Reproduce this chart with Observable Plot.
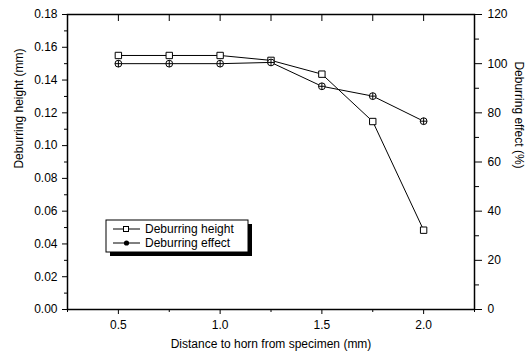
<!DOCTYPE html>
<html><head><meta charset="utf-8">
<script src="https://cdn.jsdelivr.net/npm/d3@7"></script>
<script src="https://cdn.jsdelivr.net/npm/@observablehq/plot@0.6"></script>
<style>body{margin:0;background:#fff;font-family:"Liberation Sans",Arial,sans-serif}</style>
</head><body><div id="chart"></div>
<script>
const distance = [0.5, 0.75, 1.0, 1.25, 1.5, 1.75, 2.0];
const debHeight = [0.155, 0.155, 0.155, 0.152, 0.1436, 0.1147, 0.0484];
const debEffect = [100, 100, 100, 100.5, 90.8, 86.8, 76.6];
const leftTicks = [0, 0.02, 0.04, 0.06, 0.08, 0.10, 0.12, 0.14, 0.16, 0.18];
const leftMinor = [0.01, 0.03, 0.05, 0.07, 0.09, 0.11, 0.13, 0.15, 0.17];
const rightTicks = [0, 20, 40, 60, 80, 100, 120];
const rightMinor = [10, 30, 50, 70, 90, 110];
const xTicks = [0.5, 1.0, 1.5, 2.0];
const xMinor = [0.25, 0.75, 1.25, 1.75, 2.25];
const xTop = [0.5, 0.75, 1.0, 1.25, 1.5, 1.75, 2.0];
const seriesNames = ["Deburring height", "Deburring effect"];

const Y_MAX = 0.18, R_MAX = 120;
const toLeft = v => v / R_MAX * Y_MAX;

const hData = distance.map((d, i) => ({x: d, y: debHeight[i]}));
const eData = distance.map((d, i) => ({x: d, y: toLeft(debEffect[i])}));

const circlePlus = {
  draw(ctx, size) {
    const r = Math.sqrt(size / Math.PI);
    ctx.moveTo(r, 0);
    ctx.arc(0, 0, r, 0, 2 * Math.PI);
    ctx.moveTo(-r, 0); ctx.lineTo(r, 0);
    ctx.moveTo(0, -r); ctx.lineTo(0, r);
  }
};

const chart = Plot.plot({
  width: 530, height: 358,
  marginLeft: 67, marginRight: 56, marginTop: 14, marginBottom: 49,
  style: {fontFamily: "Liberation Sans, Arial, sans-serif", fontSize: "12px", background: "white", color: "black"},
  x: {domain: [0.25, 2.25]},
  y: {domain: [0, Y_MAX]},
  marks: [
    Plot.axisY(leftTicks, {anchor: "left", tickSize: 5, tickPadding: 5, tickFormat: d3.format(".2f"), label: null}),
    Plot.axisY(leftMinor, {anchor: "left", tickSize: 3, tickFormat: () => "", label: null}),
    Plot.axisY(rightTicks.map(toLeft), {anchor: "right", tickSize: 7, tickPadding: 6, tickFormat: d => String(Math.round(d / Y_MAX * R_MAX)), label: null}),
    Plot.axisY(rightMinor.map(toLeft), {anchor: "right", tickSize: 4, tickFormat: () => "", label: null}),
    Plot.axisX(xTicks, {anchor: "bottom", tickSize: 5, tickPadding: 6, tickFormat: d3.format(".1f"), label: null}),
    Plot.axisX(xMinor, {anchor: "bottom", tickSize: 3, tickFormat: () => "", label: null}),
    Plot.axisX(xTop, {anchor: "top", tickSize: -6, tickFormat: () => "", label: null}),
    Plot.frame({strokeWidth: 1.5}),
    Plot.line(hData, {x: "x", y: "y", stroke: "black", strokeWidth: 1}),
    Plot.line(eData, {x: "x", y: "y", stroke: "black", strokeWidth: 1}),
    Plot.dot(hData, {x: "x", y: "y", symbol: "square", r: 3.6, fill: "white", stroke: "black", strokeWidth: 1}),
    Plot.dot(eData, {x: "x", y: "y", symbol: circlePlus, r: 3.4, fill: "white", stroke: "black", strokeWidth: 1}),
    Plot.text(["Deburring height (mm)"], {y: () => 0.086, frameAnchor: "left", dx: -48, rotate: -90, fontSize: 12}),
    Plot.text(["Deburring effect (%)"], {y: () => 0.086, frameAnchor: "right", dx: 44, rotate: 90, fontSize: 12}),
    Plot.text(["Distance to horn from specimen (mm)"], {frameAnchor: "bottom", dy: 38, fontSize: 12})
  ]
});
document.getElementById("chart").appendChild(chart);

// legend
const svg = d3.select(chart);
const lg = svg.append("g").attr("font-family", "Liberation Sans, Arial, sans-serif").attr("font-size", 12).attr("text-anchor", "start");
lg.append("rect").attr("x", 110).attr("y", 224).attr("width", 142).attr("height", 32).attr("fill", "black");
lg.append("rect").attr("x", 106).attr("y", 220).attr("width", 142).attr("height", 32).attr("fill", "white").attr("stroke", "black").attr("stroke-width", 1);
seriesNames.forEach((name, i) => {
  const cy = 229 + i * 14;
  lg.append("line").attr("x1", 113).attr("x2", 140).attr("y1", cy).attr("y2", cy).attr("stroke", "black");
  if (i === 0) {
    lg.append("rect").attr("x", 123.5).attr("y", cy - 2.5).attr("width", 5).attr("height", 5).attr("fill", "white").attr("stroke", "black");
  } else {
    lg.append("circle").attr("cx", 126.5).attr("cy", cy).attr("r", 2.6).attr("fill", "black");
  }
  lg.append("text").attr("x", 145).attr("y", cy).attr("dy", "0.35em").attr("text-anchor", "start").text(name);
});
</script></body></html>
